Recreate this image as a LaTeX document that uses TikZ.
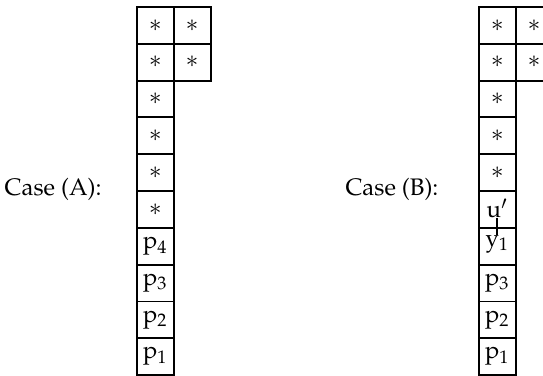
\documentclass[tikz,border=0pt]{standalone}
\usepackage[T1]{fontenc}
\usepackage{mathpazo}
\usepackage{tikz}
\usetikzlibrary{
  positioning
}
\tikzstyle{cell}=[draw, thick, minimum size=15.4pt, inner sep=0pt, outer sep=0pt]
\tikzstyle{label}=[inner sep=0pt, outer sep=0pt]

\begin{document}
\begin{tikzpicture}[x=15.4pt, y=15.4pt]
    \def\bx{9.29};
    \def\ymid{5.05};

    % 図の範囲
    \useasboundingbox (-3.72,0) rectangle (11.03,10.19);

    % Case (A) の見出し
    \node[anchor=east] (caseA) at (-0.73,\ymid) {Case (A):};

    % Case (A) の第1列
    \node[cell] (a1) at (0.5,0.5) {$\mathrm{p}_1$};
    \node[cell, above=0pt of a1] (a2) {$\mathrm{p}_2$};
    \node[cell, above=0pt of a2] (a3) {$\mathrm{p}_3$};
    \node[cell, above=0pt of a3] (a4) {$\mathrm{p}_4$};
    \node[cell, above=0pt of a4] (a5) {$\ast$};
    \node[cell, above=0pt of a5] (a6) {$\ast$};
    \node[cell, above=0pt of a6] (a7) {$\ast$};
    \node[cell, above=0pt of a7] (a8) {$\ast$};
    \node[cell, above=0pt of a8] (a9) {$\ast$};
    \node[cell, above=0pt of a9] (a10) {$\ast$};
    % Case (A) の第2列
    \node[cell, right=0pt of a9] (a9r) {$\ast$};
    \node[cell, right=0pt of a10] (a10r) {$\ast$};

    % Case (B) の見出し
    \node[anchor=east] (caseB) at (\bx-0.87,\ymid) {Case (B):};

    % Case (B) の第1列
    \node[cell] (b1) at (\bx+0.5,0.5) {$\mathrm{p}_1$};
    \node[cell, above=0pt of b1] (b2) {$\mathrm{p}_2$};
    \node[cell, above=0pt of b2] (b3) {$\mathrm{p}_3$};
    \node[cell, above=0pt of b3] (b4) {};
    \node[cell, above=0pt of b4] (b5) {};
    \node[cell, above=0pt of b5] (b6) {$\ast$};
    \node[cell, above=0pt of b6] (b7) {$\ast$};
    \node[cell, above=0pt of b7] (b8) {$\ast$};
    \node[cell, above=0pt of b8] (b9) {$\ast$};
    \node[cell, above=0pt of b9] (b10) {$\ast$};
    % Case (B) の第2列
    \node[cell, right=0pt of b9] (b9r) {$\ast$};
    \node[cell, right=0pt of b10] (b10r) {$\ast$};

    % u' と y_1 を結ぶ線
    \node[label, anchor=base] (u) at (\bx+0.5,4.27) {$\mathrm{u}'$};
    \node[label, anchor=north] (y) at (\bx+0.5,3.80) {$\mathrm{y}_1$};
    \draw[thick] (u.base) -- (y.north);
\end{tikzpicture}
\end{document}
